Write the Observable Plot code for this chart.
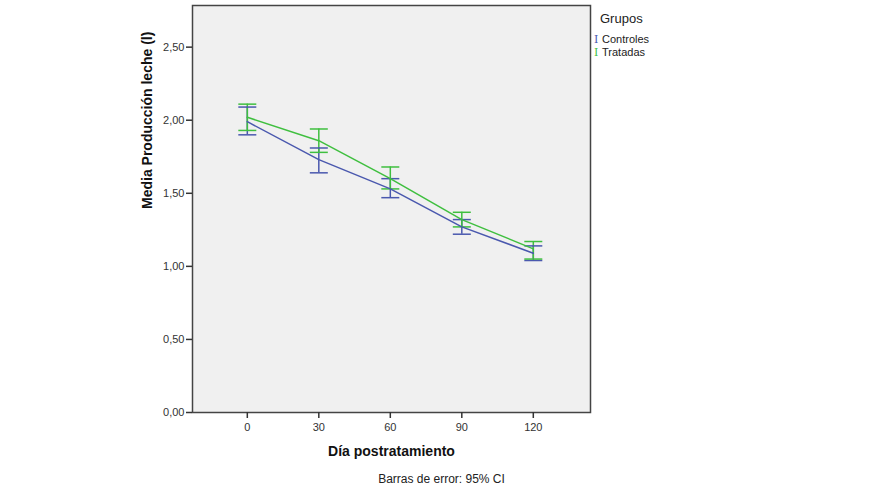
<!DOCTYPE html>
<html>
<head>
<meta charset="utf-8">
<script src="https://cdn.jsdelivr.net/npm/d3@7"></script>
<script src="https://cdn.jsdelivr.net/npm/@observablehq/plot@0.6"></script>
<style>
  body { margin: 0; background: #fff; font-family: "Liberation Sans", Arial, sans-serif; }
  #wrap { position: relative; width: 875px; height: 500px; }
  #legend { position: absolute; left: 594px; top: 11px; font-size: 12px; color: #222; }
  #legend .t { font-size: 13px; margin-left: 6px; margin-bottom: 7px; }
  #legend .row { font-size: 11px; line-height: 13px; white-space: nowrap; }
  #legend .sym { display: inline-block; width: 8px; font-family: "DejaVu Serif", serif; font-size: 11px; }
</style>
</head>
<body>
<div id="wrap"></div>
<script>
const days = [0, 30, 60, 90, 120];
const groups = ["Controles", "Tratadas"];
const colors = ["#4a58ae", "#3fbf3f"];
const controlesMean = [1.99, 1.73, 1.53, 1.27, 1.09];
const controlesLow  = [1.90, 1.64, 1.47, 1.22, 1.04];
const controlesHigh = [2.09, 1.81, 1.60, 1.32, 1.14];
const tratadasMean  = [2.02, 1.86, 1.60, 1.32, 1.12];
const tratadasLow   = [1.93, 1.78, 1.53, 1.27, 1.05];
const tratadasHigh  = [2.11, 1.94, 1.68, 1.37, 1.17];
const yTicks = [0, 0.5, 1, 1.5, 2, 2.5];
const yTickLabels = ["0,00", "0,50", "1,00", "1,50", "2,00", "2,50"];
const xTitle = "Día postratamiento";
const yTitle = "Media Producción leche (l)";
const caption = "Barras de error: 95% CI";
const legendTitle = "Grupos";

const rows = [];
const series = [[controlesMean, controlesLow, controlesHigh], [tratadasMean, tratadasLow, tratadasHigh]];
groups.forEach((g, gi) => {
  days.forEach((d, i) => {
    rows.push({group: g, day: d, mean: series[gi][0][i], low: series[gi][1][i], high: series[gi][2][i]});
  });
});

const capSymbol = { draw(ctx) { ctx.moveTo(-9, 0); ctx.lineTo(9, 0); } };

const chart = Plot.plot({
  width: 875,
  height: 500,
  marginLeft: 192,
  marginRight: 285,
  marginTop: 5,
  marginBottom: 88,
  style: { fontFamily: "Liberation Sans, Arial, sans-serif", fontSize: "11px", color: "#333", background: "transparent", overflow: "visible" },
  x: { domain: [-23, 144] },
  y: { domain: [0, 2.785] },
  color: { domain: groups, range: colors },
  marks: [
    Plot.frame({ fill: "#f0f0f0", stroke: "none" }),
    Plot.ruleX(rows, { x: "day", y1: "low", y2: "high", stroke: "group", strokeWidth: 1.5 }),
    Plot.dot(rows, { x: "day", y: "low", symbol: capSymbol, stroke: "group", strokeWidth: 1.5, fill: "none" }),
    Plot.dot(rows, { x: "day", y: "high", symbol: capSymbol, stroke: "group", strokeWidth: 1.5, fill: "none" }),
    Plot.line(rows, { x: "day", y: "mean", z: "group", stroke: "group", strokeWidth: 1.5 }),
    Plot.frame({ stroke: "#444", strokeWidth: 1.5 }),
    Plot.axisY({ ticks: yTicks, tickFormat: (d) => yTickLabels[yTicks.indexOf(d)], tickSize: 6, tickPadding: 2, label: null, stroke: "#333", strokeWidth: 1.5, fill: "#333" }),
    Plot.axisX({ ticks: days, tickSize: 6, tickPadding: 5, label: null, stroke: "#333", strokeWidth: 1.5, fill: "#333" }),
    Plot.text([yTitle], { frameAnchor: "left", dx: -45, rotate: -90, fontWeight: "bold", fontSize: 14, fill: "#111" }),
    Plot.text([xTitle], { frameAnchor: "bottom", dy: 43, fontWeight: "bold", fontSize: 14, fill: "#111" }),
    Plot.text([caption], { frameAnchor: "bottom", dx: 50, dy: 70, fontSize: 12, fill: "#222" })
  ]
});
const wrap = document.getElementById("wrap");
wrap.appendChild(chart);

const legend = document.createElement("div");
legend.id = "legend";
const t = document.createElement("div");
t.className = "t";
t.textContent = legendTitle;
legend.appendChild(t);
groups.forEach((g, i) => {
  const r = document.createElement("div");
  r.className = "row";
  const s = document.createElement("span");
  s.className = "sym";
  s.style.color = colors[i];
  s.textContent = "I";
  r.appendChild(s);
  r.appendChild(document.createTextNode(g));
  legend.appendChild(r);
});
wrap.appendChild(legend);
</script>
</body>
</html>
